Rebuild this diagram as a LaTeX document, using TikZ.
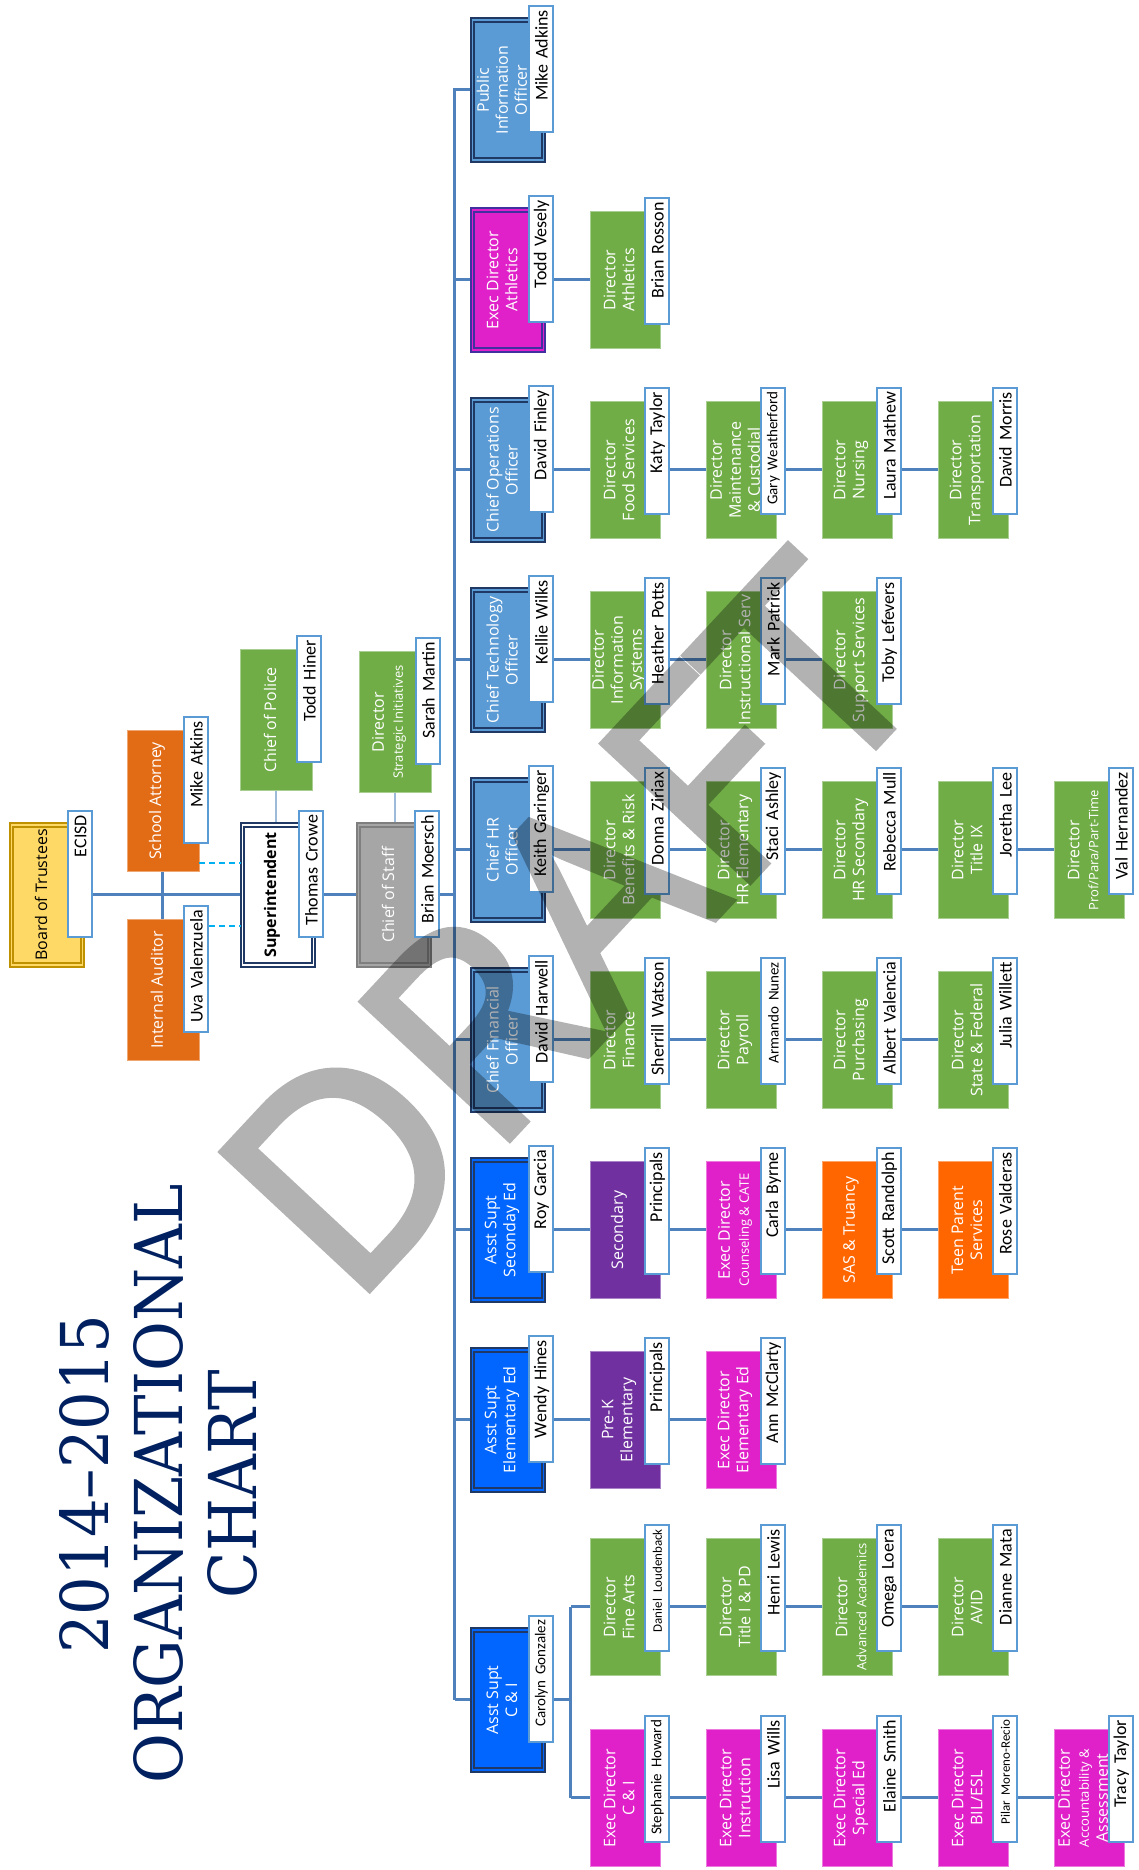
\documentclass[tikz,border=0pt]{standalone}
\usepackage{fontspec}
\setmainfont{Open Sans}
\newfontfamily\namefont{Carlito}
\newfontfamily\headfont{DejaVu Serif}
\newfontfamily\draftfont{Open Sans}[FakeBold=2.5]
\usetikzlibrary{calc,backgrounds}
\definecolor{navyc}{RGB}{31,56,100}
\definecolor{chiefc}{RGB}{91,155,213}
\definecolor{asstc}{RGB}{0,102,255}
\definecolor{greenc}{RGB}{112,173,71}
\definecolor{purpc}{RGB}{112,48,160}
\definecolor{magc}{RGB}{224,32,200}
\definecolor{indigoc}{RGB}{64,48,160}
\definecolor{orgc}{RGB}{255,102,0}
\definecolor{attyc}{RGB}{226,107,22}
\definecolor{yellowc}{RGB}{255,217,102}
\definecolor{goldc}{RGB}{191,144,0}
\definecolor{grayc}{RGB}{166,166,166}
\definecolor{grayd}{RGB}{127,127,127}
\definecolor{tabc}{RGB}{91,155,213}
\definecolor{linkc}{RGB}{79,129,189}
\definecolor{dashc}{RGB}{0,176,240}
\definecolor{titlec}{RGB}{0,32,96}
\tikzset{
  box/.style    = {rectangle, inner sep=0pt},
  chief/.style  = {box, fill=#1, draw=navyc, double=#1, double distance=1.2pt,
                   line width=2pt, minimum width=140pt, minimum height=71pt},
  chief/.default= chiefc,
  sub/.style    = {box, fill=#1, draw=#1!60!white, line width=0.8pt,
                   minimum width=137pt, minimum height=70pt},
  sub/.default  = greenc,
  side/.style   = {sub=#1, minimum width=141pt, minimum height=72pt},
  ttl/.style    = {align=center, text=white, inner sep=0pt,
                   font=\fontsize{16}{19}\selectfont},
  tab/.style    = {draw=tabc, line width=2pt, fill=white, anchor=south east,
                   minimum height=24pt, text width=118pt, align=right,
                   inner xsep=4pt, inner ysep=0pt,
                   font=\namefont\fontsize{18}{20}\selectfont},
  link/.style   = {draw=linkc, line width=3pt},
  thinlink/.style = {draw=linkc!55, line width=1.3pt},
  dashl/.style  = {draw=dashc, line width=1.5pt, dash pattern=on 6pt off 4pt},
  head/.style   = {align=center, text=titlec, xscale=0.92,
                   font=\headfont\fontsize{66}{74}\selectfont},
  draft/.style  = {text=black, rotate=-43,
                   font=\draftfont\fontsize{282}{282}\selectfont},
}
\newcommand{\sm}{\fontsize{13}{15}\selectfont}
\newcommand{\smname}{\fontsize{15}{17}\selectfont}
\newcommand{\tinyname}{\fontsize{13}{15}\selectfont}
% box, its title and its name tab
\newcommand{\orgunit}[5]{%
  \node[#2] (#1) at (#3) {};
  \node[ttl] (#1t) at ([yshift=6pt]#1.center) {#4};
  \node[tab] (#1n) at ([xshift=14pt,yshift=-10pt]#1.south east) {#5};
}

\begin{document}
\begin{tikzpicture}[x=1pt, y=1pt]
\begin{scope}[rotate=90, transform shape]
\path[use as bounding box] (0,0) rectangle (1870,1138);

% ---- title ----
\node[head] (hd) at (386,980) {2014–2015\\ORGANIZATIONAL\\CHART};

% ---- board and superintendent ----
\orgunit{board}{chief=yellowc, draw=goldc}{975,1091}{\color{black}Board of Trustees}{ECISD}
\orgunit{atty}{side=attyc}{1069,975}{School Attorney}{Mike Atkins}
\orgunit{aud}{side=attyc}{880,975}{Internal Auditor}{Uva Valenzuela}
\orgunit{supt}{chief=white}{975,860}{\color{black}\bfseries Superintendent}{Thomas Crowe}
\orgunit{pol}{side}{1150,862}{Chief of Police}{Todd Hiner}
\orgunit{cos}{chief=grayc, draw=grayd}{975,744}{Chief of Staff}{Brian Moersch}
\orgunit{dsi}{side}{1148,743}{Director\\{\sm Strategic Initiatives}}{Sarah Martin}

% ---- chiefs ----
\orgunit{pio}{chief}{1780,630}{Public\\Information\\Officer}{Mike Adkins}
\orgunit{ath}{chief=magc, draw=indigoc}{1590,630}{Exec Director\\Athletics}{Todd Vesely}
\orgunit{coo}{chief}{1400,630}{Chief Operations\\Officer}{David Finley}
\orgunit{cto}{chief}{1210,630}{Chief Technology\\Officer}{Kellie Wilks}
\orgunit{hr}{chief}{1020,630}{Chief HR\\Officer}{Keith Garinger}
\orgunit{cfo}{chief}{830,630}{Chief Financial\\Officer}{David Harwell}
\orgunit{sec}{chief=asstc}{640,630}{Asst Supt\\Seconday Ed}{Roy Garcia}
\orgunit{elem}{chief=asstc}{450,630}{Asst Supt\\Elementary Ed}{Wendy Hines}
\orgunit{ci}{chief=asstc}{170,630}{Asst Supt\\C \& I}{\smname Carolyn Gonzalez}

% ---- departments ----
\orgunit{athd}{sub}{1590,513}{Director\\Athletics}{Brian Rosson}

\orgunit{coo1}{sub}{1400,513}{Director\\Food Services}{Katy Taylor}
\orgunit{coo2}{sub}{1400,397}{Director\\Maintenance\\\& Custodial}{\smname Gary Weatherford}
\orgunit{coo3}{sub}{1400,281}{Director\\Nursing}{Laura Mathew}
\orgunit{coo4}{sub}{1400,165}{Director\\Transportation}{David Morris}

\orgunit{cto1}{sub}{1210,513}{Director\\Information\\Systems}{Heather Potts}
\orgunit{cto2}{sub}{1210,397}{Director\\Instructional Serv}{Mark Patrick}
\orgunit{cto3}{sub}{1210,281}{Director\\Support Services}{Toby Lefevers}

\orgunit{hr1}{sub}{1020,513}{Director\\Benefits \& Risk}{Donna Ziriax}
\orgunit{hr2}{sub}{1020,397}{Director\\HR Elementary}{Staci Ashley}
\orgunit{hr3}{sub}{1020,281}{Director\\HR Secondary}{Rebecca Mull}
\orgunit{hr4}{sub}{1020,165}{Director\\Title IX}{Joretha Lee}
\orgunit{hr5}{sub}{1020,49}{Director\\{\sm Prof/Para/Part-Time}}{Val Hernandez}

\orgunit{cfo1}{sub}{830,513}{Director\\Finance}{Sherrill Watson}
\orgunit{cfo2}{sub}{830,397}{Director\\Payroll}{\smname Armando Nunez}
\orgunit{cfo3}{sub}{830,281}{Director\\Purchasing}{Albert Valencia}
\orgunit{cfo4}{sub}{830,165}{Director\\State \& Federal}{Julia Willett}

\orgunit{sec1}{sub=purpc}{640,513}{Secondary}{Principals}
\orgunit{sec2}{sub=magc}{640,397}{Exec Director\\{\sm Counseling \& CATE}}{Carla Byrne}
\orgunit{sec3}{sub=orgc}{640,281}{SAS \& Truancy}{Scott Randolph}
\orgunit{sec4}{sub=orgc}{640,165}{Teen Parent\\Services}{Rose Valderas}

\orgunit{elem1}{sub=purpc}{450,513}{Pre-K\\Elementary}{Principals}
\orgunit{elem2}{sub=magc}{450,397}{Exec Director\\Elementary Ed}{Ann McClarty}

\orgunit{ciu1}{sub}{263,513}{Director\\Fine Arts}{\tinyname Daniel Loudenback}
\orgunit{ciu2}{sub}{263,397}{Director\\Title I \& PD}{Henri Lewis}
\orgunit{ciu3}{sub}{263,281}{Director\\{\sm Advanced Academics}}{Omega Loera}
\orgunit{ciu4}{sub}{263,165}{Director\\AVID}{Dianne Mata}

\orgunit{cil1}{sub=magc}{72,513}{Exec Director\\C \& I}{\smname Stephanie Howard}
\orgunit{cil2}{sub=magc}{72,397}{Exec Director\\Instruction}{Lisa Wills}
\orgunit{cil3}{sub=magc}{72,281}{Exec Director\\Special Ed}{Elaine Smith}
\orgunit{cil4}{sub=magc}{72,165}{Exec Director\\BIL/ESL}{\tinyname Pilar Moreno-Recio}
\orgunit{cil5}{sub=magc}{72,49}{Exec Director\\{\sm Accountability \&}\\Assessment}{Tracy Taylor}

% ---- connectors ----
\begin{scope}[on background layer]
  \coordinate (spt) at (1782,683);
  \coordinate (spb) at (170,683);
  \coordinate (busr) at (263,567);
  \coordinate (busl) at (72,567);
  \draw[link] (board) -- (supt) -- (cos) -- (cos |- spt);
  \draw[link] (atty) -- (aud);
  \draw[thinlink] (pol) -- (pol -| supt);
  \draw[thinlink] (dsi) -- (dsi -| cos);
  \draw[link] (spb) -- (spt);
  \foreach \ch in {pio,ath,coo,cto,hr,cfo,sec,elem,ci}
    \draw[link] (\ch) -- (\ch |- spt);
  \draw[link] (ath) -- (athd);
  \draw[link] (coo) -- (coo4);
  \draw[link] (cto) -- (cto3);
  \draw[link] (hr) -- (hr5);
  \draw[link] (cfo) -- (cfo4);
  \draw[link] (sec) -- (sec4);
  \draw[link] (elem) -- (elem2);
  \draw[link] (ci) -- (ci |- busr);
  \draw[link] (busl) -- (busr);
  \draw[link] (busr) -- (ciu4);
  \draw[link] (busl) -- (cil5);
\end{scope}
\coordinate (da) at ([xshift=9pt]atty.south west);
\coordinate (db) at ([xshift=-21pt]audn.south east);
\draw[dashl] (da) -- (da |- supt.north);
\draw[dashl] (db) -- (db |- supt.north);

% ---- watermark ----
\begin{scope}[transparency group, opacity=0.3]
  \node[draft] (wm) at (944,568) {DRAFT};
\end{scope}
\end{scope}
\end{tikzpicture}
\end{document}
